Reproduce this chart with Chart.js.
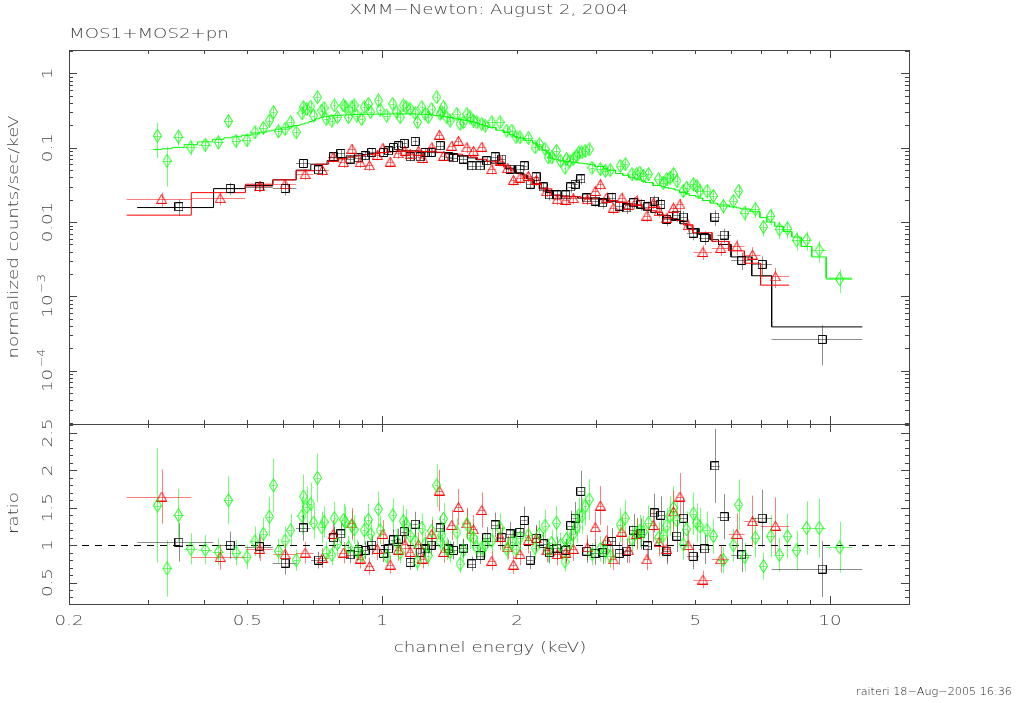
<!DOCTYPE html>
<html>
<head>
    <title>XMM-Newton: August 2, 2004</title>
    <script src="https://cdn.jsdelivr.net/npm/chart.js"></script>
    <style>
        body { margin: 0; background: #fff; }
        #plot { position: relative; width: 1016px; height: 703px; }
        #plot canvas { position: absolute; left: 0; top: 0; }
    </style>
</head>
<body>
<div id="plot">
    <canvas id="spectrum" width="1016" height="703"></canvas>
    <canvas id="ratio" width="1016" height="703"></canvas>
</div>
<script>
// ---- data (keV, counts/s/keV, data/model) ----
// MOS1 (black squares)
const blackEnergy = [0.352,0.458,0.532,0.607,0.667,0.721,0.779,0.809,0.848,0.884,
    0.916,0.948,1.007,1.033,1.060,1.087,1.120,1.155,1.185,1.216,
    1.247,1.286,1.347,1.406,1.443,1.518,1.586,1.655,1.712,1.787,
    1.850,1.930,2.030,2.075,2.140,2.206,2.287,2.363,2.455,2.570,
    2.636,2.696,2.777,2.862,2.988,3.106,3.256,3.381,3.519,3.641,
    3.781,3.912,4.051,4.188,4.324,4.547,4.702,4.943,5.248,5.531,
    5.799,6.349,7.05,9.6];
const blackHalfWidth = [0.068,0.037,0.038,0.037,0.025,0.027,0.020,0.017,0.019,0.018,
    0.016,0.025,0.025,0.013,0.013,0.014,0.016,0.015,0.015,0.015,
    0.016,0.025,0.030,0.025,0.030,0.037,0.034,0.032,0.035,0.035,
    0.035,0.045,0.035,0.030,0.035,0.035,0.040,0.040,0.050,0.050,
    0.035,0.035,0.040,0.055,0.060,0.065,0.070,0.065,0.065,0.065,
    0.070,0.065,0.070,0.070,0.090,0.100,0.100,0.150,0.150,0.140,
    0.200,0.330,0.360,2.20];
const blackFlux = [0.0161,0.0284,0.0300,0.0284,0.0614,0.0504,0.0756,0.0837,0.0704,0.0733,
    0.0780,0.0864,0.0864,0.0910,0.1010,0.1064,0.1143,0.0756,0.1217,0.0756,
    0.0864,0.0864,0.1064,0.0756,0.0733,0.0704,0.0571,0.0571,0.0667,0.0756,
    0.0704,0.0515,0.0515,0.0571,0.0323,0.0406,0.0297,0.0232,0.0232,0.0232,
    0.0297,0.0323,0.0381,0.0211,0.0192,0.0182,0.0213,0.0164,0.0155,0.0182,
    0.0173,0.0160,0.0192,0.0173,0.0109,0.0124,0.0117,0.0071,0.0062,0.0117,
    0.0067,0.00306,0.0027,0.000265];
const blackModel = [0.0157,0.0282,0.0310,0.0370,0.0500,0.0600,0.0670,0.0710,0.0750,0.0780,
    0.0810,0.0830,0.0860,0.0880,0.0890,0.0900,0.0910,0.0910,0.0910,0.0900,
    0.0890,0.0880,0.0860,0.0830,0.0810,0.0770,0.0730,0.0690,0.0660,0.0620,
    0.0580,0.0530,0.0460,0.0430,0.0380,0.0330,0.0280,0.0250,0.0230,0.0220,
    0.0220,0.0220,0.0210,0.0210,0.0205,0.0200,0.0195,0.0185,0.0175,0.0165,
    0.0155,0.0145,0.0135,0.0125,0.0115,0.0105,0.0095,0.0082,0.0068,0.0058,
    0.0050,0.0034,0.0019,0.00039];
const blackRatio = [1.04,1.00,0.98,0.76,1.23,0.80,1.10,1.15,0.87,0.92,
    0.93,1.00,0.89,0.95,1.07,1.08,1.18,0.77,1.28,0.90,
    0.95,1.00,1.23,0.95,0.93,0.96,0.75,0.86,1.10,1.27,
    1.10,1.15,1.17,1.33,0.80,1.09,1.02,0.90,0.96,0.93,
    1.26,1.36,1.72,0.92,0.89,0.90,1.05,0.89,0.92,1.20,
    1.15,0.99,1.43,1.40,0.92,1.12,1.36,0.85,0.95,2.06,
    1.38,0.87,1.36,0.68];
const blackErr = [0.25,0.18,0.16,0.20,0.14,0.14,0.13,0.13,0.13,0.13,
    0.13,0.13,0.13,0.13,0.13,0.13,0.13,0.13,0.13,0.13,
    0.13,0.13,0.13,0.13,0.13,0.13,0.13,0.13,0.13,0.13,
    0.13,0.14,0.14,0.14,0.15,0.15,0.15,0.16,0.16,0.16,
    0.16,0.16,0.16,0.17,0.17,0.17,0.17,0.17,0.17,0.18,
    0.18,0.18,0.18,0.18,0.19,0.19,0.20,0.20,0.21,0.24,
    0.22,0.26,0.28,0.55];

// MOS2 (red triangles)
const redEnergy = [0.322,0.435,0.533,0.607,0.673,0.736,0.778,0.820,0.856,0.893,
    0.937,0.975,1.004,1.042,1.087,1.125,1.155,1.205,1.232,1.291,
    1.342,1.371,1.430,1.480,1.546,1.599,1.669,1.757,1.833,1.905,
    1.964,2.030,2.120,2.210,2.330,2.460,2.570,2.670,2.870,2.990,
    3.070,3.170,3.280,3.430,3.550,3.700,3.900,4.030,4.150,4.320,
    4.470,4.620,4.820,5.200,5.700,6.190,6.710,7.550];
const redHalfWidth = [0.053,0.060,0.037,0.035,0.030,0.025,0.020,0.020,0.018,0.018,
    0.020,0.018,0.015,0.018,0.020,0.018,0.015,0.020,0.015,0.025,
    0.020,0.015,0.025,0.025,0.030,0.025,0.030,0.035,0.035,0.035,
    0.030,0.035,0.040,0.045,0.050,0.060,0.040,0.060,0.045,0.045,
    0.040,0.045,0.060,0.060,0.060,0.070,0.070,0.060,0.060,0.080,
    0.070,0.080,0.100,0.250,0.250,0.250,0.280,0.550];
const redFlux = [0.0205,0.0210,0.0306,0.0323,0.0441,0.0500,0.0756,0.0640,0.0970,0.0640,
    0.0580,0.0800,0.0990,0.0650,0.0840,0.0910,0.0820,0.0910,0.0730,0.1010,
    0.1500,0.0780,0.1064,0.1240,0.1010,0.0910,0.1030,0.0515,0.0667,0.0531,
    0.0370,0.0397,0.0418,0.0370,0.0260,0.0203,0.0200,0.0210,0.0203,0.0262,
    0.0323,0.0213,0.0156,0.0213,0.0170,0.0195,0.0122,0.0182,0.0140,0.0114,
    0.0156,0.0173,0.0091,0.00397,0.0045,0.0047,0.00366,0.00186];
const redModel = [0.0124,0.0249,0.0323,0.0370,0.0490,0.0600,0.0660,0.0710,0.0750,0.0780,
    0.0810,0.0840,0.0860,0.0880,0.0890,0.0900,0.0900,0.0900,0.0890,0.0880,
    0.0870,0.0860,0.0840,0.0820,0.0780,0.0750,0.0700,0.0650,0.0600,0.0550,
    0.0500,0.0450,0.0390,0.0330,0.0280,0.0230,0.0222,0.0220,0.0210,0.0210,
    0.0205,0.0200,0.0195,0.0185,0.0178,0.0170,0.0150,0.0142,0.0135,0.0122,
    0.0112,0.0105,0.0092,0.0072,0.0055,0.0041,0.0028,0.00142];
const redRatio = [1.65,0.84,0.95,0.88,0.90,0.83,1.15,0.90,1.29,0.82,
    0.72,0.95,1.15,0.74,0.94,1.01,0.91,1.01,0.82,1.15,
    1.73,0.91,1.27,1.51,1.29,1.21,1.47,0.79,1.11,0.97,
    0.74,0.88,1.07,1.09,0.93,0.88,0.90,0.95,0.97,1.24,
    1.53,1.07,0.81,1.18,0.93,1.15,0.81,1.27,1.04,0.95,
    1.45,1.65,1.00,0.54,0.81,1.15,1.32,1.26];
const redErr = [0.22,0.20,0.17,0.16,0.16,0.16,0.16,0.16,0.16,0.16,
    0.16,0.16,0.16,0.16,0.16,0.16,0.16,0.16,0.16,0.16,
    0.16,0.16,0.16,0.16,0.16,0.16,0.16,0.16,0.16,0.16,
    0.17,0.17,0.17,0.17,0.17,0.17,0.17,0.17,0.17,0.17,
    0.17,0.18,0.18,0.18,0.18,0.18,0.18,0.18,0.18,0.18,
    0.19,0.19,0.20,0.22,0.22,0.24,0.26,0.30];

// pn (green diamonds)
const greenEnergy = [0.315,0.331,0.351,0.374,0.403,0.431,0.454,0.472,0.499,0.520,
    0.543,0.560,0.572,0.587,0.607,0.625,0.643,0.662,0.667,0.679,
    0.693,0.703,0.717,0.733,0.742,0.750,0.772,0.782,0.795,0.820,
    0.827,0.841,0.856,0.866,0.878,0.900,0.912,0.932,0.943,0.981,
    0.990,1.024,1.056,1.078,1.097,1.115,1.131,1.155,1.185,1.199,
    1.226,1.247,1.268,1.290,1.324,1.347,1.359,1.371,1.394,1.418,
    1.468,1.493,1.518,1.546,1.571,1.599,1.627,1.669,1.698,1.757,
    1.833,1.898,1.948,1.990,2.030,2.120,2.195,2.244,2.310,2.350,
    2.390,2.450,2.500,2.560,2.580,2.625,2.670,2.720,2.750,2.790,
    2.840,2.900,2.940,3.070,3.150,3.230,3.400,3.490,3.610,3.700,
    3.760,3.830,3.930,4.140,4.240,4.320,4.390,4.470,4.550,4.700,
    4.780,4.950,5.040,5.120,5.310,5.490,5.780,6.080,6.250,6.450,
    6.810,7.100,7.370,7.700,8.030,8.420,8.860,9.450,10.50];
const greenHalfWidth = [0.007,0.008,0.010,0.012,0.014,0.012,0.010,0.011,0.012,0.011,
    0.009,0.007,0.007,0.009,0.009,0.009,0.009,0.004,0.004,0.007,
    0.006,0.006,0.008,0.006,0.004,0.008,0.008,0.006,0.010,0.006,
    0.006,0.007,0.006,0.006,0.010,0.008,0.008,0.008,0.010,0.010,
    0.008,0.015,0.012,0.008,0.008,0.008,0.010,0.012,0.008,0.010,
    0.012,0.010,0.010,0.010,0.012,0.008,0.006,0.008,0.012,0.012,
    0.015,0.012,0.012,0.012,0.012,0.012,0.015,0.015,0.020,0.035,
    0.035,0.025,0.022,0.020,0.035,0.045,0.025,0.030,0.025,0.020,
    0.020,0.030,0.020,0.010,0.015,0.020,0.025,0.020,0.015,0.020,
    0.025,0.025,0.030,0.060,0.040,0.060,0.050,0.050,0.050,0.040,
    0.040,0.040,0.060,0.080,0.050,0.040,0.040,0.040,0.050,0.080,
    0.050,0.080,0.050,0.060,0.100,0.100,0.150,0.100,0.080,0.150,
    0.150,0.120,0.150,0.180,0.180,0.200,0.240,0.350,0.700];
const greenFlux = [0.145,0.0667,0.141,0.101,0.110,0.118,0.227,0.124,0.127,0.161,
    0.185,0.232,0.300,0.166,0.179,0.220,0.161,0.291,0.351,0.333,
    0.358,0.271,0.478,0.316,0.344,0.244,0.232,0.370,0.257,0.370,
    0.358,0.257,0.351,0.370,0.271,0.244,0.351,0.389,0.300,0.432,
    0.323,0.271,0.389,0.300,0.257,0.370,0.351,0.333,0.291,0.220,
    0.351,0.285,0.257,0.333,0.478,0.285,0.300,0.351,0.257,0.232,
    0.285,0.209,0.220,0.285,0.257,0.232,0.220,0.209,0.198,0.220,
    0.220,0.170,0.170,0.140,0.138,0.135,0.101,0.112,0.096,0.074,
    0.074,0.091,0.0667,0.054,0.0704,0.0667,0.0704,0.078,0.0864,0.0864,
    0.091,0.095,0.054,0.0515,0.049,0.050,0.057,0.060,0.0441,0.0441,
    0.0464,0.0418,0.0441,0.0377,0.034,0.0377,0.0397,0.0441,0.0358,0.0262,
    0.029,0.0323,0.0306,0.0262,0.0262,0.0225,0.0164,0.0192,0.0262,0.0134,
    0.0149,0.0086,0.0121,0.0080,0.0082,0.0057,0.0058,0.0042,0.00171];
const greenModel = [0.095,0.097,0.101,0.110,0.120,0.130,0.136,0.140,0.147,0.153,
    0.162,0.168,0.172,0.178,0.185,0.192,0.199,0.207,0.209,0.215,
    0.225,0.232,0.245,0.255,0.260,0.262,0.268,0.270,0.272,0.275,
    0.276,0.277,0.278,0.279,0.280,0.281,0.281,0.282,0.282,0.283,
    0.283,0.284,0.285,0.285,0.285,0.285,0.285,0.285,0.284,0.283,
    0.282,0.281,0.279,0.276,0.270,0.268,0.266,0.265,0.260,0.255,
    0.245,0.240,0.236,0.232,0.227,0.222,0.215,0.205,0.198,0.188,
    0.172,0.160,0.150,0.142,0.135,0.126,0.115,0.105,0.092,0.085,
    0.072,0.070,0.067,0.066,0.065,0.065,0.064,0.063,0.062,0.062,
    0.061,0.060,0.059,0.056,0.053,0.050,0.045,0.0425,0.040,0.038,
    0.037,0.0355,0.034,0.031,0.030,0.029,0.0285,0.028,0.027,0.025,
    0.024,0.0228,0.022,0.021,0.0195,0.018,0.017,0.016,0.0155,0.015,
    0.0138,0.0115,0.010,0.0088,0.0075,0.0063,0.0047,0.0034,0.00176];
const greenRatio = [1.53,0.69,1.40,0.95,0.94,0.91,1.60,0.90,0.84,1.05,
    1.15,1.38,1.80,0.92,1.06,1.20,0.80,1.39,1.65,1.51,
    1.55,1.30,1.90,1.24,1.31,0.90,0.87,1.36,1.02,1.34,
    1.31,0.97,1.26,1.21,0.92,0.87,1.20,1.34,1.15,1.48,
    1.20,0.85,1.40,1.05,0.90,1.32,1.28,1.12,1.05,0.78,
    1.23,1.01,0.86,1.19,1.80,1.05,1.13,1.35,0.95,0.91,
    1.17,0.75,0.93,1.28,1.13,1.10,0.97,0.96,1.00,1.06,
    1.23,0.95,1.04,0.95,1.10,1.13,0.96,1.15,1.26,0.93,
    1.03,1.30,1.00,0.78,1.08,1.03,1.15,1.24,1.40,1.39,
    1.52,1.61,0.88,0.95,0.92,0.85,1.27,1.36,1.08,1.16,
    1.19,1.18,1.30,1.10,1.13,1.26,1.39,1.50,1.33,1.01,
    1.21,1.42,1.30,1.25,1.20,1.12,0.80,1.00,1.54,0.84,
    1.10,0.72,1.12,0.87,1.12,0.93,1.23,1.23,0.97];
const greenErr = [0.50,0.55,0.25,0.22,0.21,0.20,0.20,0.19,0.19,0.19,
    0.19,0.19,0.20,0.18,0.18,0.18,0.18,0.18,0.18,0.18,
    0.18,0.17,0.17,0.17,0.16,0.16,0.16,0.16,0.16,0.16,
    0.16,0.16,0.16,0.16,0.16,0.16,0.16,0.16,0.16,0.16,
    0.16,0.16,0.16,0.16,0.16,0.16,0.16,0.16,0.16,0.16,
    0.16,0.16,0.16,0.16,0.16,0.16,0.16,0.16,0.16,0.16,
    0.16,0.16,0.16,0.16,0.16,0.16,0.16,0.16,0.16,0.16,
    0.16,0.16,0.16,0.16,0.16,0.16,0.16,0.16,0.17,0.17,
    0.17,0.17,0.17,0.17,0.17,0.17,0.17,0.17,0.17,0.17,
    0.17,0.17,0.17,0.18,0.18,0.18,0.18,0.18,0.18,0.18,
    0.18,0.18,0.18,0.19,0.19,0.19,0.19,0.19,0.19,0.20,
    0.20,0.20,0.20,0.20,0.21,0.21,0.22,0.22,0.22,0.23,
    0.24,0.25,0.25,0.26,0.27,0.28,0.29,0.32,0.35];

// axes
const energyTickValues = [0.2, 0.5, 1, 2, 5, 10];
const energyTickLabels = ['0.2', '0.5', '1', '2', '5', '10'];
const fluxTickValues = [1, 0.1, 0.01, 1e-3, 1e-4];
const fluxTickLabels = ['1', '0.1', '0.01', ['10', '\u22123'], ['10', '\u22124']];
const ratioTickValues = [0.5, 1, 1.5, 2, 2.5];
const ratioTickLabels = ['0.5', '1', '1.5', '2', '2.5'];

function checkLengths(name, arrs) {
    arrs.forEach((a, i) => {
        if (a.length !== arrs[0].length) throw new Error(name + ': array ' + i + ' has ' + a.length + ' values, expected ' + arrs[0].length);
    });
}
checkLengths('black', [blackEnergy, blackHalfWidth, blackFlux, blackModel, blackRatio, blackErr]);
checkLengths('red', [redEnergy, redHalfWidth, redFlux, redModel, redRatio, redErr]);
checkLengths('green', [greenEnergy, greenHalfWidth, greenFlux, greenModel, greenRatio, greenErr]);

// ---- look ----
const FONT = '"DejaVu Sans", sans-serif';
const TEXT = '#444';
const FRAME = '#444';
const STRETCH = 1.3;   // PGPLOT letters are wide

function marker(w, h, color, path) {
    const c = document.createElement('canvas');
    c.width = w; c.height = h;
    const g = c.getContext('2d');
    g.strokeStyle = color; g.lineWidth = 1;
    g.beginPath(); path(g); g.closePath(); g.stroke();
    return c;
}
const squareMark = marker(9, 9, '#000', g => g.rect(0.5, 0.5, 8, 8));
const triangleMark = marker(11, 10, '#f00', g => { g.moveTo(5.5, 0.5); g.lineTo(10.5, 9.5); g.lineTo(0.5, 9.5); });
const diamondMark = marker(9, 14, '#0f0', g => { g.moveTo(4.5, 0.5); g.lineTo(8.5, 7); g.lineTo(4.5, 13.5); g.lineTo(0.5, 7); });

const series = [
    { e: greenEnergy, hw: greenHalfWidth, flux: greenFlux, model: greenModel, ratio: greenRatio, err: greenErr,
      line: '#0f0', bar: 'rgba(0,255,0,0.55)', mark: diamondMark, order: 0 },
    { e: redEnergy, hw: redHalfWidth, flux: redFlux, model: redModel, ratio: redRatio, err: redErr,
      line: '#f00', bar: 'rgba(255,0,0,0.5)', mark: triangleMark, order: 1 },
    { e: blackEnergy, hw: blackHalfWidth, flux: blackFlux, model: blackModel, ratio: blackRatio, err: blackErr,
      line: '#000', bar: 'rgba(0,0,0,0.45)', mark: squareMark, order: 2 }
];

function putText(ctx, str, x, y, size, align, rot) {
    ctx.save();
    ctx.font = '200 ' + size + 'px ' + FONT;
    ctx.fillStyle = TEXT;
    ctx.textBaseline = 'middle';
    ctx.textAlign = align || 'center';
    ctx.translate(x, y);
    if (rot) ctx.rotate(rot);
    ctx.scale(STRETCH, 1);
    ctx.fillText(str, 0, 0);
    ctx.restore();
}

function putPower(ctx, base, exp, x, y) {
    ctx.save();
    ctx.translate(x, y);
    ctx.rotate(-Math.PI / 2);
    ctx.scale(STRETCH, 1);
    ctx.fillStyle = TEXT;
    ctx.textBaseline = 'middle';
    ctx.textAlign = 'left';
    ctx.font = '200 14px ' + FONT;
    const wb = ctx.measureText(base).width;
    ctx.font = '200 10px ' + FONT;
    const we = ctx.measureText(exp).width;
    const start = -(wb + we) / 2;
    ctx.font = '200 14px ' + FONT;
    ctx.fillText(base, start, 0);
    ctx.font = '200 10px ' + FONT;
    ctx.fillText(exp, start + wb + 1, -6);
    ctx.restore();
}

function seg(ctx, x1, y1, x2, y2) {
    ctx.beginPath(); ctx.moveTo(x1, y1); ctx.lineTo(x2, y2); ctx.stroke();
}

const errorBars = {
    id: 'errorBars',
    beforeDatasetsDraw(chart) {
        const { ctx, chartArea: a, scales: { x, y } } = chart;
        ctx.save();
        ctx.beginPath();
        ctx.rect(a.left, a.top, a.right - a.left, a.bottom - a.top);
        ctx.clip();
        ctx.lineWidth = 1;
        chart.data.datasets.forEach(ds => {
            if (!ds.bars) return;
            ctx.strokeStyle = ds.bars.color;
            ds.data.forEach((p, i) => {
                const hw = ds.bars.hw[i], rel = ds.bars.rel[i];
                const px = Math.round(x.getPixelForValue(p.x)) + 0.5;
                const py = Math.round(y.getPixelForValue(p.y)) + 0.5;
                const lo = Math.max(p.y * (1 - rel), y.min);
                ctx.beginPath();
                ctx.moveTo(x.getPixelForValue(p.x - hw), py);
                ctx.lineTo(x.getPixelForValue(p.x + hw), py);
                ctx.moveTo(px, y.getPixelForValue(lo));
                ctx.lineTo(px, y.getPixelForValue(p.y * (1 + rel)));
                ctx.stroke();
            });
        });
        ctx.restore();
    }
};

// frame with inward ticks on all four sides, plus the text
const pgAxes = {
    id: 'pgAxes',
    beforeDatasetsDraw(chart) {
        if (chart.canvas.id !== 'ratio') return;
        const { ctx, chartArea: a, scales: { y } } = chart;
        const py = Math.round(y.getPixelForValue(1)) + 0.5;
        ctx.save();
        ctx.strokeStyle = '#000';
        ctx.lineWidth = 1;
        ctx.setLineDash([7, 6]);
        seg(ctx, a.left, py, a.right, py);
        ctx.restore();
    },
    afterDraw(chart) {
        const { ctx, chartArea: a, scales: { x, y } } = chart;
        const isRatio = chart.canvas.id === 'ratio';
        ctx.save();
        ctx.strokeStyle = FRAME;
        ctx.lineWidth = 1;
        ctx.strokeRect(a.left + 0.5, a.top + 0.5, a.right - a.left, a.bottom - a.top);

        const xt = (v, len) => {
            const p = Math.round(x.getPixelForValue(v)) + 0.5;
            seg(ctx, p, a.bottom, p, a.bottom - len);
            seg(ctx, p, a.top, p, a.top + len);
        };
        const yt = (v, len) => {
            if (v < y.min || v > y.max) return;
            const p = Math.round(y.getPixelForValue(v)) + 0.5;
            seg(ctx, a.left, p, a.left + len, p);
            seg(ctx, a.right, p, a.right - len, p);
        };
        for (let d = 0.1; d < 20; d *= 10) {
            for (let k = 1; k <= 9; k++) {
                const v = +(k * d).toPrecision(3);
                if (v > 0.2 && v < 15) xt(v, (k === 1) ? 8 : 4);
            }
        }
        if (isRatio) {
            for (let v = 3; v <= 26; v++) yt(v / 10, (v % 5 === 0) ? 8 : 4);
        } else {
            for (let d = 1e-5; d < 5; d *= 10) {
                for (let k = 1; k <= 9; k++) yt(+(k * d).toPrecision(3), (k === 1) ? 8 : 4);
            }
        }

        if (isRatio) {
            ratioTickValues.forEach((v, i) => putText(ctx, ratioTickLabels[i], 48, y.getPixelForValue(v), 14, 'center', -Math.PI / 2));
            energyTickValues.forEach((v, i) => putText(ctx, energyTickLabels[i], x.getPixelForValue(v), 621, 14, 'center'));
            putText(ctx, 'ratio', 14, 513, 14, 'center', -Math.PI / 2);
            putText(ctx, 'channel energy (keV)', (a.left + a.right) / 2 + 1, 648, 14, 'center');
            ctx.save();
            ctx.font = '300 10px ' + FONT;
            ctx.fillStyle = '#222';
            ctx.textAlign = 'right';
            ctx.textBaseline = 'middle';
            ctx.translate(1012, 692);
            ctx.scale(1.12, 1);
            ctx.fillText('raiteri 18\u2212Aug\u22122005 16:36', 0, 0);
            ctx.restore();
        } else {
            fluxTickValues.forEach((v, i) => {
                const lab = fluxTickLabels[i];
                if (Array.isArray(lab)) putPower(ctx, lab[0], lab[1], 48, y.getPixelForValue(v));
                else putText(ctx, lab, 48, y.getPixelForValue(v), 14, 'center', -Math.PI / 2);
            });
            putText(ctx, 'normalized counts/sec/keV', 14, 237, 14, 'center', -Math.PI / 2);
            putText(ctx, 'XMM\u2212Newton: August 2, 2004', 489, 10, 14, 'center');
            putText(ctx, 'MOS1+MOS2+pn', 69, 34, 14, 'left');
        }
        ctx.restore();
    }
};

// histogram of the model: neighbouring bins share the edge between them
function modelSteps(s) {
    const n = s.e.length;
    const edges = [s.e[0] - s.hw[0]];
    for (let i = 0; i < n - 1; i++) {
        edges.push(Math.sqrt((s.e[i] + s.hw[i]) * (s.e[i + 1] - s.hw[i + 1])));
    }
    edges.push(s.e[n - 1] + s.hw[n - 1]);
    const pts = [];
    for (let i = 0; i < n; i++) {
        pts.push({ x: edges[i], y: s.model[i] });
        pts.push({ x: edges[i + 1], y: s.model[i] });
    }
    return pts;
}

function makeChart(id, panel) {
    const datasets = [];
    series.forEach(s => {
        const vals = panel === 'spectrum' ? s.flux : s.ratio;
        datasets.push({
            data: s.e.map((e, i) => ({ x: e, y: vals[i] })),
            showLine: false,
            pointStyle: s.mark,
            pointRadius: 5,
            order: s.order,
            bars: { hw: s.hw, rel: s.err, color: s.bar }
        });
        if (panel === 'spectrum') {
            datasets.push({
                data: modelSteps(s),
                showLine: true,
                borderColor: s.line,
                borderWidth: 1,
                pointRadius: 0,
                order: 5 + s.order
            });
        }
    });
    const yScale = panel === 'spectrum'
        ? { type: 'logarithmic', min: 1.93e-5, max: 2.06, display: false }
        : { type: 'linear', min: 0.213, max: 2.62, display: false };
    return new Chart(document.getElementById(id), {
        type: 'scatter',
        data: { datasets },
        options: {
            responsive: false,
            animation: false,
            events: [],
            layout: {
                padding: panel === 'spectrum'
                    ? { left: 69, right: 107, top: 50, bottom: 279 }
                    : { left: 69, right: 107, top: 424, bottom: 99 }
            },
            scales: {
                x: { type: 'logarithmic', min: 0.2, max: 15, display: false },
                y: yScale
            },
            plugins: { legend: { display: false }, tooltip: { enabled: false } }
        },
        plugins: [errorBars, pgAxes]
    });
}

makeChart('spectrum', 'spectrum');
makeChart('ratio', 'ratio');
</script>
</body>
</html>
